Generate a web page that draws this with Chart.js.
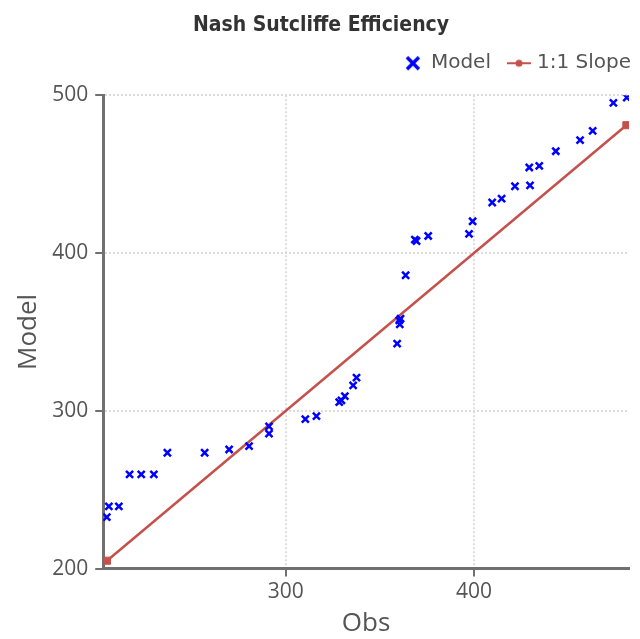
<!DOCTYPE html>
<html>
<head>
<meta charset="utf-8">
<script src="https://cdn.jsdelivr.net/npm/chart.js@4"></script>
<style>
  body { margin: 0; background: #fff; }
  #wrap { width: 640px; height: 639px; }
</style>
</head>
<body>
<div id="wrap"><canvas id="myChart"></canvas></div>
<script>
// observed vs modelled values
var obsValues = [204.9, 206.0, 211.3, 217.0, 223.2, 229.9, 237.1, 256.9, 269.9, 280.5,
  291.1, 291.1, 310.4, 316.3, 328.4, 329.6, 331.4, 335.8, 337.6, 359.2,
  360.3, 360.6, 361.0, 363.7, 368.6, 369.5, 375.7, 397.4, 399.3, 409.7,
  414.7, 421.8, 429.4, 429.8, 434.7, 443.5, 456.4, 463.1, 474.1, 481.2];
var modelValues = [232.6, 239.4, 239.4, 259.7, 259.7, 259.7, 273.4, 273.4, 275.5, 277.6,
  285.5, 290.1, 294.7, 296.6, 305.5, 306.6, 309.3, 316.1, 321.0, 342.6,
  357.3, 354.8, 358.4, 385.9, 408.5, 407.6, 410.8, 412.1, 420.1, 432.0,
  434.5, 442.3, 454.2, 442.9, 455.2, 464.5, 471.5, 477.4, 495.1, 498.5];

// 1:1 reference line
var slopeX = [205, 481];
var slopeY = [205, 481];

var xMin = 203, xMax = 482.4;
var yMin = 200, yMax = 500;
var tickStep = 100;

var blue = '#0000ff';
var red = '#c4514c';
var axisGray = '#707070';
var textGray = '#555555';
var tickFont = { family: "'Open Sans', sans-serif", size: 21 };
var axisTitleFont = { family: "'Open Sans', sans-serif", size: 26 };

const modelPoints = obsValues.map((v, i) => ({ x: v, y: modelValues[i] }));
const slopePoints = slopeX.map((v, i) => ({ x: v, y: slopeY[i] }));

// small legend icons
function makeCrossIcon() {
  var c = document.createElement('canvas');
  c.width = 18; c.height = 18;
  var g = c.getContext('2d');
  g.strokeStyle = blue;
  g.lineWidth = 3.5;
  g.beginPath();
  g.moveTo(3, 3); g.lineTo(15, 15);
  g.moveTo(15, 3); g.lineTo(3, 15);
  g.stroke();
  return c;
}

function makeSlopeIcon() {
  var c = document.createElement('canvas');
  c.width = 24; c.height = 10;
  var g = c.getContext('2d');
  g.strokeStyle = red;
  g.fillStyle = red;
  g.lineWidth = 2;
  g.beginPath();
  g.moveTo(0, 5); g.lineTo(24, 5);
  g.stroke();
  g.beginPath();
  g.arc(12, 5, 3.5, 0, Math.PI * 2);
  g.fill();
  return c;
}

var legendIcons = [makeCrossIcon(), makeSlopeIcon()];

// nudge the legend so it sits close to the title and runs to the right edge
const legendShift = {
  id: 'legendShift',
  afterLayout(chart) {
    var lg = chart.legend;
    lg.left += 22; lg.right += 22;
    lg.top -= 12; lg.bottom -= 12;
  }
};

const ctx = document.getElementById('myChart');

var myChart = new Chart(ctx, {
  type: 'scatter',
  data: {
    datasets: [{
      label: 'Model',
      data: modelPoints,
      pointStyle: 'crossRot',
      pointRadius: 5,
      pointBorderWidth: 2.5,
      borderColor: blue,
      backgroundColor: blue,
      clip: 0
    }, {
      label: '1:1 Slope',
      type: 'line',
      data: slopePoints,
      borderColor: red,
      backgroundColor: red,
      borderWidth: 2.5,
      pointStyle: 'rect',
      pointRadius: 5,
      pointBorderWidth: 1,
      clip: 0
    }]
  },
  plugins: [legendShift],
  options: {
    responsive: true,
    maintainAspectRatio: false,
    animation: false,
    layout: {
      padding: { left: 13, right: 11, top: 2, bottom: 0 }
    },
    plugins: {
      title: {
        display: true,
        text: 'Nash Sutcliffe Efficiency',
        color: '#333',
        font: { family: "'DejaVu Sans Condensed', 'Liberation Sans Narrow', sans-serif", size: 21, weight: 'bold' },
        padding: { top: 11, bottom: 7 }
      },
      legend: {
        align: 'end',
        labels: {
          usePointStyle: true,
          pointStyleWidth: 16,
          padding: 20,
          color: textGray,
          font: { family: "'DejaVu Sans', sans-serif", size: 20 },
          generateLabels: function(chart) {
            var items = Chart.defaults.plugins.legend.labels.generateLabels(chart);
            items.forEach(function(item, i) { item.pointStyle = legendIcons[i]; });
            return items;
          }
        }
      },
      tooltip: { enabled: false }
    },
    scales: {
      x: {
        type: 'linear',
        min: xMin,
        max: xMax,
        ticks: {
          stepSize: tickStep,
          includeBounds: false,
          color: textGray,
          padding: 3,
          font: tickFont
        },
        grid: {
          color: '#dcdcdc',
          lineWidth: 2,
          tickColor: axisGray,
          tickWidth: 2,
          tickLength: 8
        },
        border: { color: axisGray, width: 3, dash: [2, 2] },
        title: {
          display: true,
          text: 'Obs',
          color: textGray,
          font: axisTitleFont,
          padding: { top: 0, bottom: 0 }
        }
      },
      y: {
        type: 'linear',
        min: yMin,
        max: yMax,
        ticks: {
          stepSize: tickStep,
          color: textGray,
          padding: 7,
          font: tickFont
        },
        grid: {
          color: '#dcdcdc',
          lineWidth: 2,
          tickColor: axisGray,
          tickWidth: 2,
          tickLength: 8
        },
        border: { color: axisGray, width: 3, dash: [2, 2] },
        title: {
          display: true,
          text: 'Model',
          color: textGray,
          font: axisTitleFont,
          padding: { top: 0, bottom: 1 }
        }
      }
    }
  }
});
</script>
</body>
</html>
